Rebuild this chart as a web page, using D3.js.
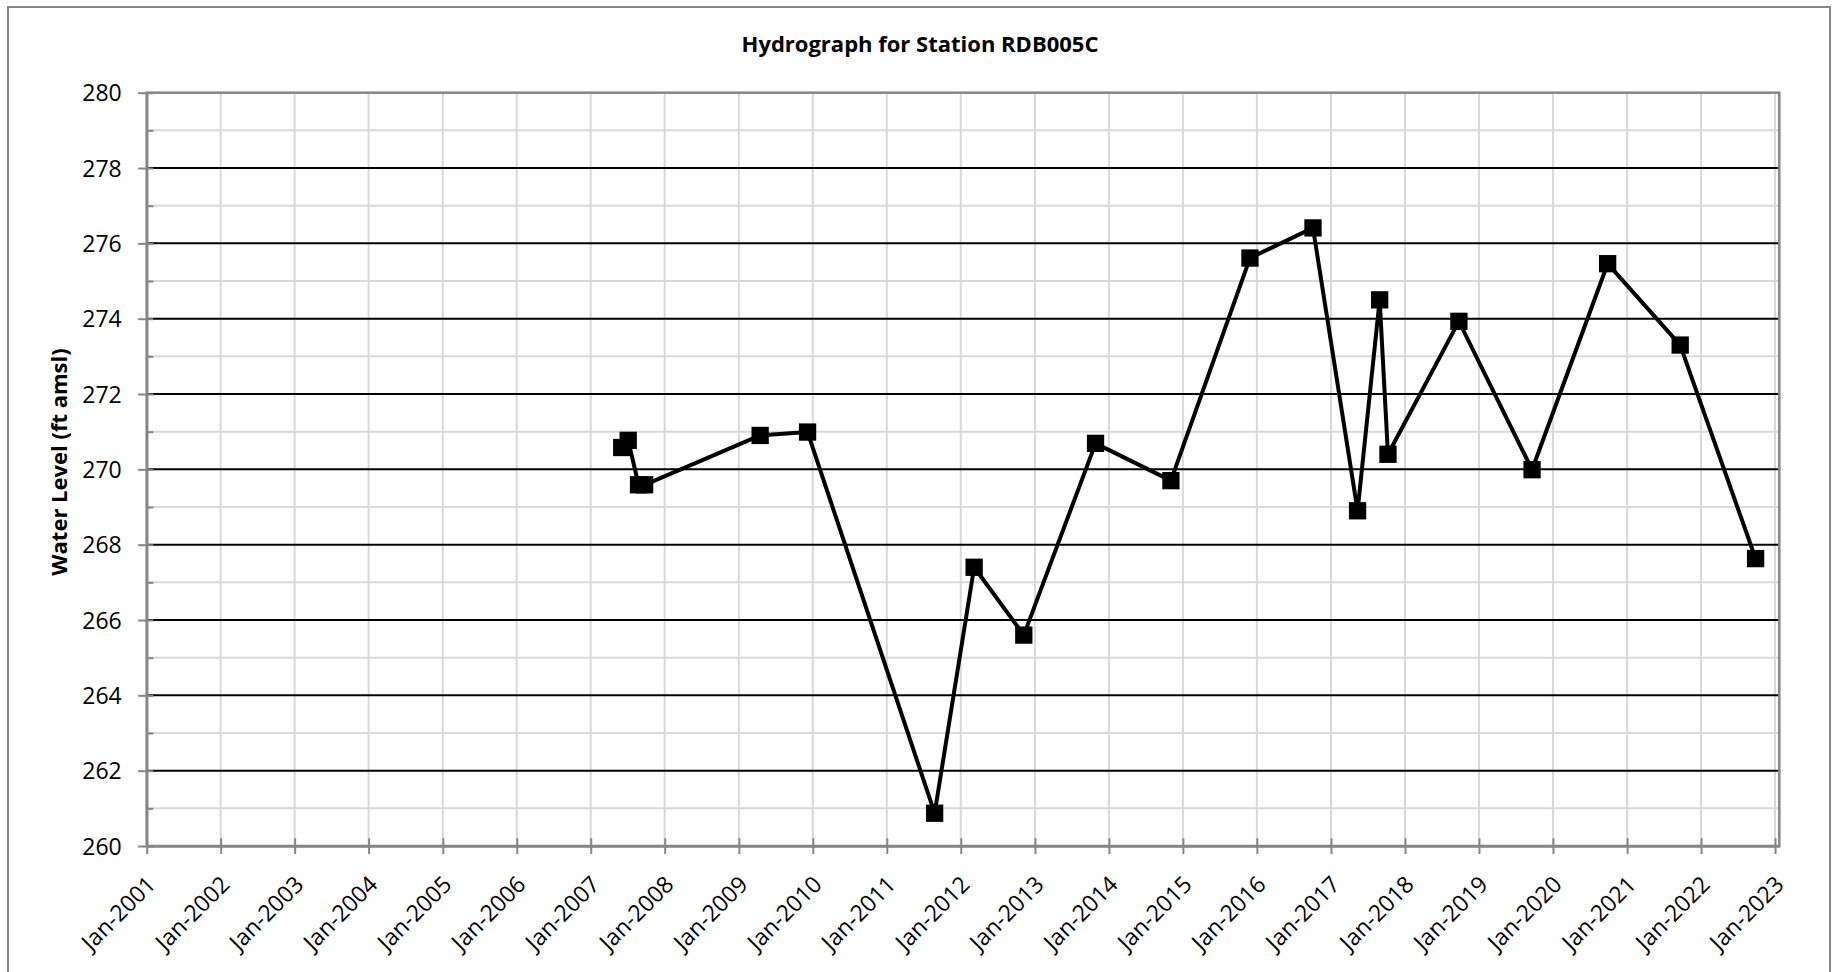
<!DOCTYPE html>
<html>
<head>
<meta charset="utf-8">
<script src="https://cdn.jsdelivr.net/npm/d3@7"></script>
<style>
  html, body { margin: 0; padding: 0; background: #fff; }
  svg { display: block; }
  text { font-family: "Open Sans", "Liberation Sans", sans-serif; fill: #000; }
</style>
</head>
<body>
<svg id="chart" width="1835" height="972"></svg>
<script>
// ---- Data ----
const title = "Hydrograph for Station RDB005C";
const yLabel = "Water Level (ft amsl)";
const dates = ["2007-06-03","2007-07-05","2007-08-25","2007-09-24","2009-04-16","2009-12-06",
               "2011-08-25","2012-03-07","2012-11-07","2013-10-27","2014-11-03","2015-11-28",
               "2016-10-04","2017-05-12","2017-08-29","2017-10-09","2018-09-24","2019-09-20",
               "2020-09-27","2021-09-20","2022-09-27"];
const levels = [270.58,270.77,269.59,269.59,270.90,270.99,
                260.87,267.40,265.60,270.69,269.70,275.61,
                276.41,268.90,274.50,270.40,273.93,269.99,
                275.46,273.30,267.63];
const yMajorTicks = [260,262,264,266,268,270,272,274,276,278,280];
const yMinorTicks = [261,263,265,267,269,271,273,275,277,279];
const xTickYears = d3.range(2001, 2024);
const xTickLabels = xTickYears.map(yr => "Jan-" + yr);

// ---- Layout ----
const svg = d3.select("#chart");
const pLeft = 146.7, pRight = 1779.3, pTop = 92.7, pBottom = 846;
const parse = d3.timeParse("%Y-%m-%d");
const x = d3.scaleTime()
  .domain([new Date(2001, 0, 1), new Date(2023, 0, 22)])
  .range([pLeft, pRight]);
const y = d3.scaleLinear().domain([260, 280]).range([pBottom, pTop]);

const axisGray = "#868686";
const gridGray = "#d9d9d9";

// outer border
svg.append("rect").attr("x", 8).attr("y", 7).attr("width", 1822).attr("height", 990)
  .attr("fill", "none").attr("stroke", axisGray).attr("stroke-width", 2);

// title
svg.append("text").attr("x", 920).attr("y", 51.5).attr("text-anchor", "middle")
  .attr("font-size", 22).attr("font-weight", "bold").text(title);

// y label
svg.append("text").attr("transform", "translate(67,462) rotate(-90)")
  .attr("text-anchor", "middle").attr("font-size", 22).attr("font-weight", "bold").text(yLabel);

const g = svg.append("g");

// vertical gridlines
const xTickDates = xTickYears.map(yr => new Date(yr, 0, 1));
g.append("g").selectAll("line").data(xTickDates.slice(1)).join("line")
  .attr("x1", d => x(d)).attr("x2", d => x(d)).attr("y1", pTop).attr("y2", pBottom)
  .attr("stroke", gridGray).attr("stroke-width", 2);

// minor horizontal gridlines
g.append("g").selectAll("line").data(yMinorTicks).join("line")
  .attr("x1", pLeft).attr("x2", pRight).attr("y1", d => y(d)).attr("y2", d => y(d))
  .attr("stroke", gridGray).attr("stroke-width", 2);

// major horizontal gridlines
g.append("g").selectAll("line").data(yMajorTicks.filter(v => v > 260 && v < 280)).join("line")
  .attr("x1", pLeft).attr("x2", pRight).attr("y1", d => y(d)).attr("y2", d => y(d))
  .attr("stroke", "#000").attr("stroke-width", 2);

// plot border
g.append("rect").attr("x", pLeft).attr("y", pTop).attr("width", pRight - pLeft).attr("height", pBottom - pTop)
  .attr("fill", "none").attr("stroke", axisGray).attr("stroke-width", 2.5);

// y axis
const yAxis = d3.axisLeft(y).tickValues(yMajorTicks).tickSizeInner(8.5).tickSizeOuter(0).tickPadding(16)
  .tickFormat(d3.format("d"));
const yg = svg.append("g").attr("transform", `translate(${pLeft},0)`).call(yAxis);
yg.select(".domain").attr("stroke", axisGray).attr("stroke-width", 2.5);
yg.selectAll(".tick line").attr("stroke", axisGray).attr("stroke-width", 2).attr("x2", -8.5).attr("x1", 6.6);
yg.selectAll(".tick text").attr("font-size", 23).attr("font-family", "\"Open Sans\", sans-serif")
  .attr("fill", "#000").attr("dy", "0.36em").attr("x", -25);
// minor y ticks (inside)
const ygm = svg.append("g").attr("transform", `translate(${pLeft},0)`)
  .call(d3.axisRight(y).tickValues(yMinorTicks).tickSize(6.6).tickFormat(""));
ygm.select(".domain").remove();
ygm.selectAll(".tick line").attr("stroke", axisGray).attr("stroke-width", 2);

// x axis
const xAxis = d3.axisBottom(x).tickValues(xTickDates).tickSizeInner(8).tickSizeOuter(0)
  .tickFormat((d, i) => xTickLabels[i]);
const xg = svg.append("g").attr("transform", `translate(0,${pBottom})`).call(xAxis);
xg.select(".domain").attr("stroke", axisGray).attr("stroke-width", 2.5);
xg.selectAll(".tick line").attr("stroke", axisGray).attr("stroke-width", 2).attr("y1", -7.7).attr("y2", 8);
xg.selectAll(".tick text")
  .attr("font-size", 23).attr("font-family", "\"Open Sans\", sans-serif").attr("fill", "#000")
  .attr("text-anchor", "end").attr("y", 0).attr("dy", "0.36em")
  .attr("transform", "translate(4,34) rotate(-45)");

// series
const pts = dates.map((d, i) => ({ date: parse(d), value: levels[i] }));
const line = d3.line().x(d => x(d.date)).y(d => y(d.value));
svg.append("path").datum(pts).attr("d", line)
  .attr("fill", "none").attr("stroke", "#000").attr("stroke-width", 4).attr("stroke-linejoin", "round");
const ms = 17.3;
svg.append("g").selectAll("rect").data(pts).join("rect")
  .attr("x", d => x(d.date) - ms / 2).attr("y", d => y(d.value) - ms / 2)
  .attr("width", ms).attr("height", ms).attr("fill", "#000");
</script>
</body>
</html>
